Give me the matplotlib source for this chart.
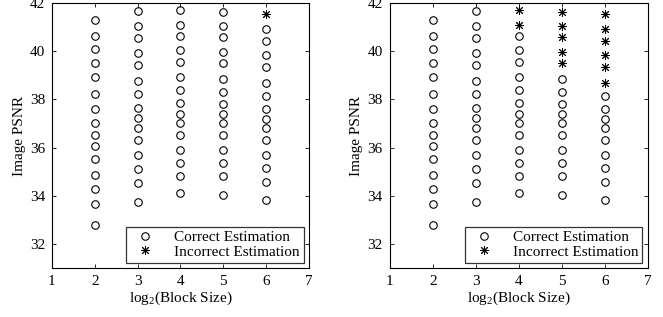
import matplotlib.pyplot as plt
import numpy as np

plt.rcParams['font.family'] = ['Liberation Serif', 'DejaVu Serif']
plt.rcParams['mathtext.fontset'] = 'custom'
plt.rcParams['mathtext.rm'] = 'Liberation Serif'

# log2(block size) columns and PSNR values (top to bottom)
block_log2 = [2, 3, 4, 5, 6]
psnr_2 = [41.28, 40.65, 40.11, 39.49, 38.94, 38.21, 37.61, 37.01, 36.51, 36.08, 35.53, 34.88, 34.28, 33.64, 32.80]
psnr_3 = [41.66, 41.05, 40.54, 39.93, 39.43, 38.76, 38.21, 37.66, 37.21, 36.83, 36.30, 35.70, 35.12, 34.54, 33.75]
psnr_4 = [41.71, 41.10, 40.65, 40.04, 39.56, 38.92, 38.39, 37.83, 37.38, 37.01, 36.51, 35.90, 35.37, 34.83, 34.10]
psnr_5 = [41.64, 41.06, 40.57, 39.97, 39.49, 38.83, 38.32, 37.79, 37.38, 37.01, 36.51, 35.90, 35.37, 34.80, 34.04]
psnr_6 = [41.53, 40.92, 40.41, 39.83, 39.34, 38.68, 38.14, 37.61, 37.17, 36.81, 36.32, 35.70, 35.13, 34.55, 33.81]
psnr_cols = [psnr_2, psnr_3, psnr_4, psnr_5, psnr_6]

# how many of the top points in each column are incorrect estimates
n_wrong_left = [0, 0, 0, 0, 1]
n_wrong_right = [0, 0, 2, 5, 6]

fig = plt.figure(figsize=(6.63, 3.17), dpi=100)
ax_left = fig.add_axes([0.0784, 0.1546, 0.3876, 0.836])
ax_right = fig.add_axes([0.588, 0.1546, 0.389, 0.836])

star = (8, 2, 0)

for ax, n_wrong in [(ax_left, n_wrong_left), (ax_right, n_wrong_right)]:
    for k, (bx, vals) in enumerate(zip(block_log2, psnr_cols)):
        nw = n_wrong[k]
        good = vals[nw:]
        bad = vals[:nw]
        ax.plot([bx] * len(good), good, linestyle='none', marker='o', markersize=5.4,
                markerfacecolor='none', markeredgecolor='black', markeredgewidth=0.8,
                label='Correct Estimation' if k == 0 else None)
        ax.plot([bx] * len(bad), bad, linestyle='none', marker=star, markersize=6.5,
                color='black', markeredgewidth=0.7)
    # legend proxy for the incorrect marker
    ax.plot([], [], linestyle='none', marker=star, markersize=6.5, color='black',
            markeredgewidth=0.7, label='Incorrect Estimation')
    ax.set_xlim(1, 7)
    ax.set_ylim(31, 42)
    ax.set_xticks(range(1, 8))
    ax.set_yticks(range(32, 43, 2))
    ax.tick_params(direction='in', top=True, right=True, labelsize=11, length=3, width=0.6, pad=5)
    for sp in ax.spines.values():
        sp.set_linewidth(0.8)
    ax.set_xlabel('log$_2$(Block Size)', fontsize=11, labelpad=1)
    ax.set_ylabel('Image PSNR', fontsize=11, labelpad=3)
    leg = ax.legend(loc='lower right', fontsize=11, frameon=True, fancybox=False,
                    borderaxespad=0.35, handletextpad=0.9, borderpad=0.25,
                    labelspacing=0.05, handlelength=2.0)
    leg.get_frame().set_edgecolor('black')
    leg.get_frame().set_linewidth(0.9)

fig.savefig('out.png', dpi=100)
